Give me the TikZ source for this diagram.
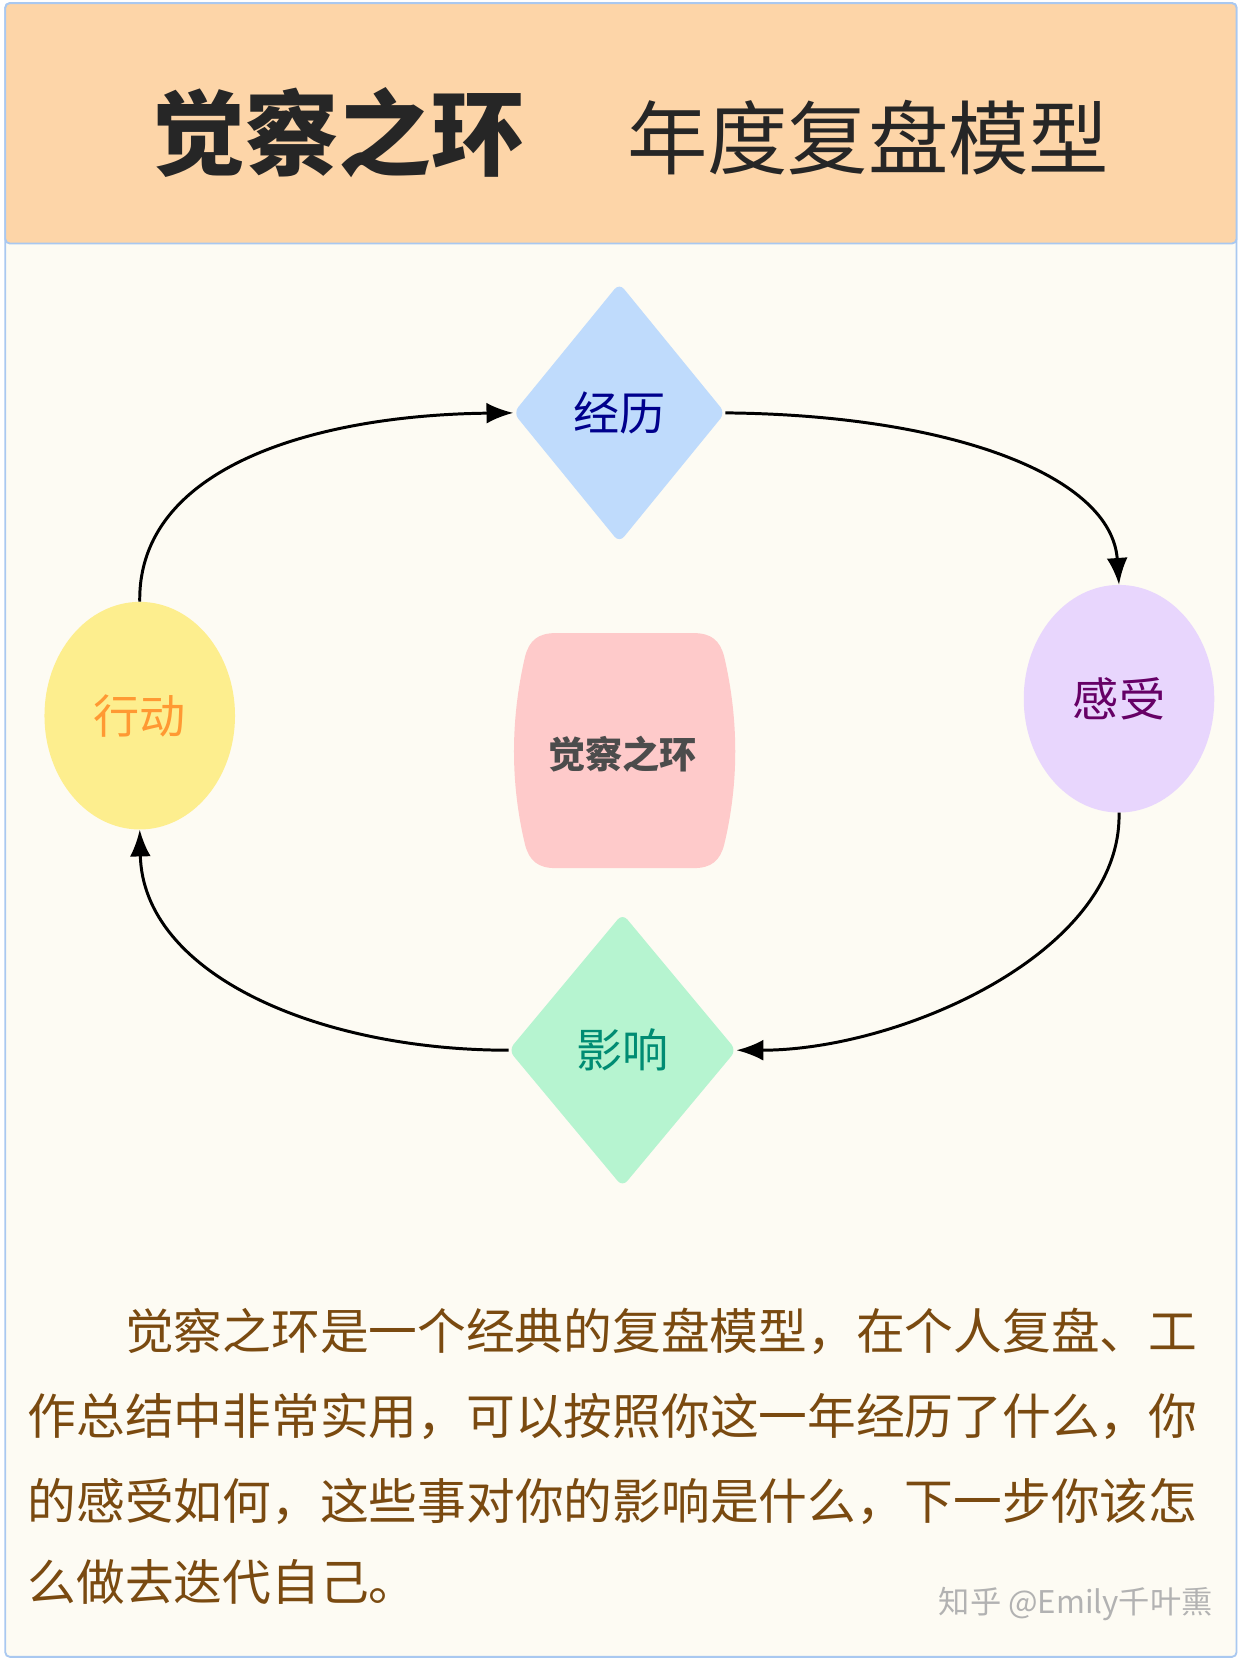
\documentclass[tikz,border=0pt]{standalone}
\usepackage{fontspec}
\setmainfont{Noto Sans CJK SC}
\usetikzlibrary{shapes.geometric,arrows.meta}
\definecolor{bg}{HTML}{FDFBF3}
\definecolor{head}{HTML}{FDD5A8}
\definecolor{frame}{HTML}{A9C8F0}
\definecolor{bodytxt}{HTML}{7A4A10}
\definecolor{cjl}{HTML}{BFDBFC}
\definecolor{cyx}{HTML}{B6F4D0}
\definecolor{cgs}{HTML}{E8D6FD}
\definecolor{cxd}{HTML}{FDEE8E}
\definecolor{ccc}{HTML}{FECACA}
\begin{document}
\begin{tikzpicture}[x=0.05cm,y=-0.05cm,
  lbl/.style={font=\fontsize{62}{70}\selectfont},
  dia/.style={diamond,draw=none,aspect=0.8,inner sep=0,rounded corners=10pt},
  ell/.style={ellipse,draw=none,minimum width=180*0.05cm,minimum height=215*0.05cm,inner sep=0},
  conn/.style={line width=4pt,-{Latex[length=36pt,width=28pt]}},
  line/.style={anchor=west,text=bodytxt,font=\fontsize{65.5}{70}\selectfont,inner sep=0}]
\useasboundingbox (0,0) rectangle (1173,1568);
\fill[white] (0,0) rectangle (1173,1568);
\draw[fill=bg,draw=frame,line width=2.5pt,rounded corners=6pt] (5,3) rectangle (1168,1565);
\draw[fill=head,draw=frame,line width=2.5pt,rounded corners=6pt] (5,3) rectangle (1168,230);
\node[font=\fontsize{125}{130}\selectfont\bfseries,text=black!85] (t1) at (320,125) {觉察之环};
\node[font=\fontsize{108}{110}\selectfont,text=black!85] (t2) at (820,130) {年度复盘模型};
\node[dia,fill=cjl,minimum width=200*0.05cm,minimum height=245*0.05cm] (jl) at (585,390) {};
\node[lbl,text=blue!55!black] at (jl) {经历};
\node[dia,fill=cyx,minimum width=215*0.05cm,minimum height=258*0.05cm] (yx) at (588,992) {};
\node[lbl,text=teal!90!green] at (yx) {影响};
\node[ell,fill=cgs] (gs) at (1057,660) {};
\node[lbl,text=violet!80!black] at (gs) {感受};
\node[ell,fill=cxd] (xd) at (132,676) {};
\node[lbl,text=orange!80] at (xd) {行动};
\fill[ccc] (525,598) -- (655,598) .. controls (672,598) and (680,605) .. (684,620) .. controls (698,680) and (698,740) .. (684,798) .. controls (680,813) and (672,820) .. (655,820) -- (525,820) .. controls (508,820) and (500,813) .. (496,798) .. controls (482,740) and (482,680) .. (496,620) .. controls (500,605) and (508,598) .. (525,598) -- cycle;
\node[font=\fontsize{50}{55}\selectfont\bfseries,text=black!70] (cc) at (588,712) {觉察之环};
\draw[conn] (xd.north) .. controls (130,440) and (300,392) .. (jl.west);
\draw[conn] (jl.east) .. controls (900,392) and (1050,450) .. (gs.north);
\draw[conn] (gs.south) .. controls (1060,900) and (850,992) .. (yx.east);
\draw[conn] (yx.west) .. controls (300,992) and (135,920) .. (xd.south);
\node[line] (l1) at (118,1258) {觉察之环是一个经典的复盘模型，在个人复盘、工};
\node[line] (l2) at (26,1338) {作总结中非常实用，可以按照你这一年经历了什么，你};
\node[line] (l3) at (26,1418) {的感受如何，这些事对你的影响是什么，下一步你该怎};
\node[line] (l4) at (26,1494) {么做去迭代自己。};
\node[anchor=east,text=black!30,font=\fontsize{42}{44}\selectfont] (wm) at (1148,1515) {知乎 @Emily千叶熏};
\end{tikzpicture}
\end{document}
